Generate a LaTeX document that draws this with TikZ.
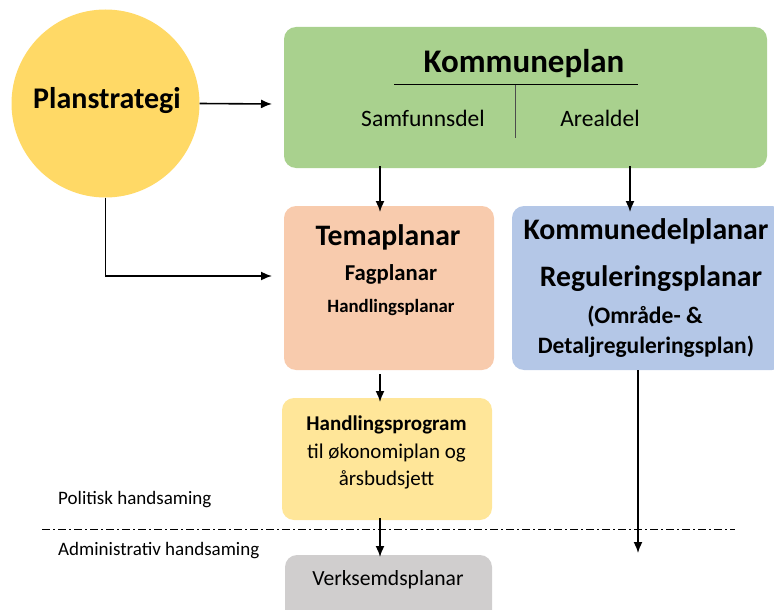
\documentclass[tikz,border=0pt]{standalone}
\usepackage{fontspec}
\setmainfont{Carlito}
\usetikzlibrary{arrows.meta}
\definecolor{cgreen}{HTML}{A9D18E}
\definecolor{corange}{HTML}{F8CBAD}
\definecolor{cblue}{HTML}{B4C7E7}
\definecolor{cyellow}{HTML}{FFE699}
\definecolor{ccircle}{HTML}{FFD966}
\definecolor{cgrey}{HTML}{D0CECE}
\newcommand{\fs}[1]{\fontsize{#1}{#1}\selectfont}
\tikzset{
  box/.style={rounded corners=12pt, draw=none},
  arr/.style={-{Latex[length=11pt,width=9pt]}, line width=1.6pt},
  lbl/.style={inner sep=0pt, anchor=center},
}
\begin{document}
\begin{tikzpicture}[x=1pt,y=-1pt]
\useasboundingbox (0,0) rectangle (774,610);
% circle
\node[circle, fill=ccircle, minimum size=188pt, inner sep=0pt] (ps) at (105.5,103.5) {};
\node[lbl] (pst) at (107,101) {\fs{30}\bfseries Planstrategi};
% green box
\fill[cgreen, box] (284,27) rectangle (767,168);
\coordinate (kpl) at (284,104);
\coordinate (kpl2) at (380,168);
\coordinate (kpr2) at (630,168);
\node[lbl] (kp) at (524,64) {\fs{33}\bfseries Kommuneplan};
\draw[line width=1pt] (394,85) -- (638,85);
\draw[line width=1pt, draw=black!70] (515,85) -- (515,138);
\node[lbl] (sd) at (423,118) {\fs{23.5}Samfunnsdel};
\node[lbl] (ad) at (600,118) {\fs{23.5}Arealdel};
% orange box
\fill[corange, box] (284,206) rectangle (494,370);
\node[lbl] (tp) at (388,237) {\fs{29.7}\bfseries Temaplanar};
\node[lbl] (fp) at (391,274) {\fs{22.7}\bfseries Fagplanar};
\node[lbl] (hp) at (391,307) {\fs{18.8}\bfseries Handlingsplanar};
\coordinate (ortop) at (380,206);
\coordinate (orleft) at (284,276);
\coordinate (orbot) at (380,370);
% blue box
\fill[cblue, box] (512,206) rectangle (784,370);
\node[lbl] (kd) at (646,231) {\fs{29.8}\bfseries Kommunedelplanar};
\node[lbl] (rp) at (651,279) {\fs{29.7}\bfseries Reguleringsplanar};
\node[lbl] (om) at (645,317) {\fs{23.6}\bfseries (Område- \&};
\node[lbl] (dr) at (646,347) {\fs{23.5}\bfseries Detaljreguleringsplan)};
\coordinate (bltop) at (630,206);
\coordinate (blbot) at (638,370);
% yellow box
\fill[cyellow, box] (282,398) rectangle (492,520);
\node[lbl] (hg) at (386.5,425) {\fs{21}\bfseries Handlingsprogram};
\node[lbl] (ok) at (386.5,453) {\fs{21}til økonomiplan og};
\node[lbl] (ab) at (386.5,480) {\fs{21}årsbudsjett};
\coordinate (yetop) at (380,398);
\coordinate (yebot) at (380,520);
% grey box
\fill[cgrey, box] (285,555) rectangle (492,625);
\node[lbl] (vp) at (388,580) {\fs{21.6}Verksemdsplanar};
\coordinate (grtop) at (380,555);
\coordinate (blend) at (638,553);
% labels
\node[lbl, anchor=west] (pol) at (58,500) {\fs{19}Politisk handsaming};
\node[lbl, anchor=west] (adm) at (58,551) {\fs{19}Administrativ handsaming};
% dash-dot line
\coordinate (dl) at (42,529);
\coordinate (dr2) at (735,529);
\draw[line width=0.8pt, dash pattern=on 8pt off 3pt on 2pt off 3pt] (dl) -- (dr2);
% arrows
\draw[arr] (ps.east) -- ([xshift=-12pt]kpl);
\draw[arr] (ps.south) |- ([xshift=-12pt]orleft);
\draw[arr] ([yshift=2pt]kpl2) -- ([yshift=-6pt]ortop);
\draw[arr] ([yshift=2pt]kpr2) -- ([yshift=-6pt]bltop);
\draw[arr] ([yshift=-4pt]orbot) -- ([yshift=-4pt]yetop);
\draw[arr] ([yshift=2pt]yebot) -- ([yshift=-2pt]grtop);
\draw[arr] (blbot) -- (blend);
\end{tikzpicture}
\end{document}
